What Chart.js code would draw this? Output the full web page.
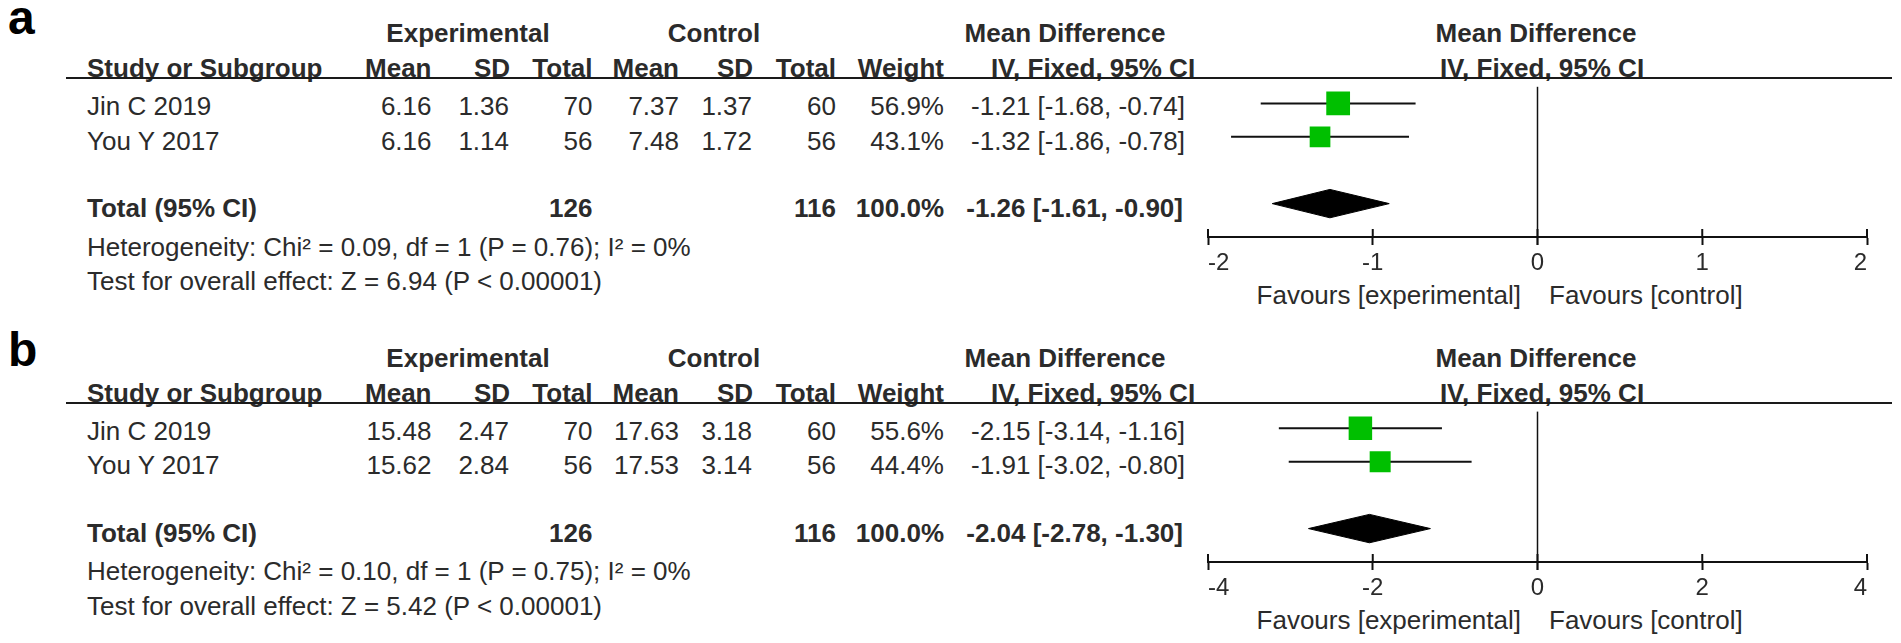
<!DOCTYPE html>
<html lang="en">
<head>
  <meta charset="UTF-8" />
  <title>Forest plots - Mean Difference</title>
  <script src="https://cdn.jsdelivr.net/npm/chart.js"></script>
  <style>
    * { box-sizing: border-box; }

    html, body {
      margin: 0;
      padding: 0;
      background: #ffffff;
    }

    body {
      width: 1901px;
      height: 643px;
      position: relative;
      overflow: hidden;
      font-family: 'Liberation Sans', Arial, sans-serif;
      color: #2b2b2b;
    }

    .t {
      position: absolute;
      font-size: 26px;
      line-height: 30px;
      white-space: nowrap;
    }

    .b { font-weight: bold; }

    .tag {
      position: absolute;
      font-size: 48px;
      line-height: 48px;
      font-weight: bold;
      color: #000;
    }

    .rule {
      position: absolute;
      height: 2px;
      background: #1a1a1a;
    }

    .plot { position: absolute; }
  </style>
</head>
<body>

  <script>
    const studies = ['Jin C 2019', 'You Y 2017'];

    // panel a
    const aExpMean = [6.16, 6.16];
    const aExpSD = [1.36, 1.14];
    const aExpN = [70, 56];
    const aCtlMean = [7.37, 7.48];
    const aCtlSD = [1.37, 1.72];
    const aCtlN = [60, 56];
    const aWeight = [56.9, 43.1];
    const aMD = [-1.21, -1.32];
    const aLo = [-1.68, -1.86];
    const aHi = [-0.74, -0.78];
    const aTotal = [-1.26, -1.61, -0.90];   // estimate, lower, upper
    const aHetero = [0.09, 1, 0.76, 0];     // chi2, df, P, I2
    const aZ = 6.94;
    const aTicks = [-2, -1, 0, 1, 2];

    // panel b
    const bExpMean = [15.48, 15.62];
    const bExpSD = [2.47, 2.84];
    const bExpN = [70, 56];
    const bCtlMean = [17.63, 17.53];
    const bCtlSD = [3.18, 3.14];
    const bCtlN = [60, 56];
    const bWeight = [55.6, 44.4];
    const bMD = [-2.15, -1.91];
    const bLo = [-3.14, -3.02];
    const bHi = [-1.16, -0.80];
    const bTotal = [-2.04, -2.78, -1.30];
    const bHetero = [0.10, 1, 0.75, 0];
    const bZ = 5.42;
    const bTicks = [-4, -2, 0, 2, 4];

    const FONT = "'Liberation Sans', Arial, sans-serif";
    const GREEN = '#00bf00';
    const INK = '#111111';
    const W = 1901;

    const panels = [
      { tag: 'a', off: 0, tagTop: -6, expMean: aExpMean, expSD: aExpSD, expN: aExpN,
        ctlMean: aCtlMean, ctlSD: aCtlSD, ctlN: aCtlN, weight: aWeight,
        md: aMD, lo: aLo, hi: aHi, total: aTotal, het: aHetero, z: aZ, ticks: aTicks },
      { tag: 'b', off: 324.5, tagTop: 326, expMean: bExpMean, expSD: bExpSD, expN: bExpN,
        ctlMean: bCtlMean, ctlSD: bCtlSD, ctlN: bCtlN, weight: bWeight,
        md: bMD, lo: bLo, hi: bHi, total: bTotal, het: bHetero, z: bZ, ticks: bTicks }
    ];

    // column anchors (right edges unless noted)
    const COL = { study: 87, expMean: 431.5, expSD: 509, expN: 592.5,
                  ctlMean: 679, ctlSD: 752, ctlN: 836, weight: 944, md: 1185 };

    function addText(str, x, yc, align, bold) {
      const el = document.createElement('div');
      el.className = 't' + (bold ? ' b' : '');
      el.textContent = str;
      el.style.top = (yc - 15) + 'px';
      if (align === 'right') {
        el.style.right = (W - x) + 'px';
      } else if (align === 'center') {
        el.style.left = x + 'px';
        el.style.transform = 'translateX(-50%)';
      } else {
        el.style.left = x + 'px';
      }
      document.body.appendChild(el);
    }

    const sum = arr => arr.reduce((s, v) => s + v, 0);
    const ci = (m, l, h) => m.toFixed(2) + ' [' + l.toFixed(2) + ', ' + h.toFixed(2) + ']';

    // ticks crossing the axis line and the line of no effect
    const crossTicks = {
      id: 'crossTicks',
      afterDraw(chart) {
        const { ctx, chartArea, scales: { x } } = chart;
        ctx.save();
        ctx.strokeStyle = INK;
        ctx.lineWidth = 2;
        x.ticks.forEach(t => {
          const px = x.getPixelForValue(t.value);
          ctx.beginPath();
          ctx.moveTo(px, chartArea.bottom - 8);
          ctx.lineTo(px, chartArea.bottom);
          ctx.stroke();
        });
        const z = x.getPixelForValue(0);
        ctx.lineWidth = 1.5;
        ctx.beginPath();
        ctx.moveTo(z, chartArea.top);
        ctx.lineTo(z, chartArea.bottom + 8);
        ctx.stroke();
        ctx.restore();
      }
    };

    function drawPanel(p) {
      const o = p.off;
      const rowY = i => o + 106 + i * 34.5;

      const tag = document.createElement('div');
      tag.className = 'tag';
      tag.textContent = p.tag;
      tag.style.left = '8px';
      tag.style.top = p.tagTop + 'px';
      document.body.appendChild(tag);

      // headers
      addText('Experimental', 468, o + 33, 'center', true);
      addText('Control', 714, o + 33, 'center', true);
      addText('Mean Difference', 1065, o + 33, 'center', true);
      addText('Mean Difference', 1536, o + 33, 'center', true);

      addText('Study or Subgroup', COL.study, o + 68, 'left', true);
      addText('Mean', COL.expMean, o + 68, 'right', true);
      addText('SD', COL.expSD + 1, o + 68, 'right', true);
      addText('Total', COL.expN, o + 68, 'right', true);
      addText('Mean', COL.ctlMean, o + 68, 'right', true);
      addText('SD', COL.ctlSD + 1, o + 68, 'right', true);
      addText('Total', COL.ctlN, o + 68, 'right', true);
      addText('Weight', COL.weight, o + 68, 'right', true);
      addText('IV, Fixed, 95% CI', 1093, o + 68, 'center', true);
      addText('IV, Fixed, 95% CI', 1542, o + 68, 'center', true);

      const rule = document.createElement('div');
      rule.className = 'rule';
      rule.style.left = '66px';
      rule.style.width = (1892 - 66) + 'px';
      rule.style.top = (o + 77.3) + 'px';
      document.body.appendChild(rule);

      // study rows
      studies.forEach((s, i) => {
        const y = rowY(i);
        addText(s, COL.study, y, 'left');
        addText(p.expMean[i].toFixed(2), COL.expMean, y, 'right');
        addText(p.expSD[i].toFixed(2), COL.expSD, y, 'right');
        addText(String(p.expN[i]), COL.expN, y, 'right');
        addText(p.ctlMean[i].toFixed(2), COL.ctlMean, y, 'right');
        addText(p.ctlSD[i].toFixed(2), COL.ctlSD, y, 'right');
        addText(String(p.ctlN[i]), COL.ctlN, y, 'right');
        addText(p.weight[i].toFixed(1) + '%', COL.weight, y, 'right');
        addText(ci(p.md[i], p.lo[i], p.hi[i]), COL.md, y, 'right');
      });

      // total row and footnotes
      addText('Total (95% CI)', COL.study, o + 208, 'left', true);
      addText(String(sum(p.expN)), COL.expN, o + 208, 'right', true);
      addText(String(sum(p.ctlN)), COL.ctlN, o + 208, 'right', true);
      addText(sum(p.weight).toFixed(1) + '%', COL.weight, o + 208, 'right', true);
      addText(ci(p.total[0], p.total[1], p.total[2]), COL.md - 2, o + 208, 'right', true);

      addText('Heterogeneity: Chi\u00b2 = ' + p.het[0].toFixed(2) + ', df = ' + p.het[1] +
              ' (P = ' + p.het[2].toFixed(2) + '); I\u00b2 = ' + p.het[3] + '%', COL.study, o + 246.7, 'left');
      addText('Test for overall effect: Z = ' + p.z.toFixed(2) + ' (P < 0.00001)', COL.study, o + 281, 'left');

      addText('Favours [experimental]', 1521, o + 295, 'right');
      addText('Favours [control]', 1549, o + 295, 'left');

      // plot
      const wrap = document.createElement('div');
      wrap.className = 'plot';
      wrap.style.left = '1180px';
      wrap.style.top = (o + 70) + 'px';
      wrap.style.width = '721px';
      wrap.style.height = '212px';
      const cv = document.createElement('canvas');
      wrap.appendChild(cv);
      document.body.appendChild(wrap);

      const n = studies.length;
      const totalRow = n + 1;
      const half = 0.425;

      const datasets = [
        {
          type: 'scatter',
          data: p.md.map((v, i) => ({ x: v, y: i })),
          pointStyle: 'rect',
          pointRadius: p.weight.map(w => 3.15 * Math.sqrt(w) / Math.SQRT2),
          backgroundColor: GREEN,
          borderColor: GREEN,
          borderWidth: 0,
          order: 0
        },
        {
          type: 'line',
          data: [
            { x: p.total[1], y: totalRow },
            { x: p.total[0], y: totalRow - half },
            { x: p.total[2], y: totalRow },
            { x: p.total[0], y: totalRow + half },
            { x: p.total[1], y: totalRow }
          ],
          borderColor: '#000',
          borderWidth: 1,
          backgroundColor: '#000',
          fill: 'shape',
          tension: 0,
          pointRadius: 0,
          order: 0
        }
      ];
      p.md.forEach((v, i) => {
        datasets.push({
          type: 'line',
          data: [{ x: p.lo[i], y: i }, { x: p.hi[i], y: i }],
          borderColor: INK,
          borderWidth: 2,
          pointRadius: 0,
          order: 1
        });
      });

      new Chart(cv, {
        type: 'scatter',
        data: { datasets: datasets },
        options: {
          responsive: true,
          maintainAspectRatio: false,
          animation: false,
          events: [],
          layout: { padding: { left: 28, right: 34, top: 8, bottom: 0 } },
          plugins: {
            legend: { display: false },
            tooltip: { enabled: false }
          },
          scales: {
            x: {
              type: 'linear',
              min: p.ticks[0],
              max: p.ticks[p.ticks.length - 1],
              afterBuildTicks: s => { s.ticks = p.ticks.map(v => ({ value: v })); },
              afterFit: s => { s.height = 45; },
              ticks: {
                align: 'inner',
                padding: 4,
                color: '#2b2b2b',
                font: { family: FONT, size: 24 }
              },
              grid: {
                drawOnChartArea: false,
                drawTicks: true,
                tickLength: 8,
                tickWidth: 2,
                tickColor: INK
              },
              border: { display: true, color: INK, width: 2 }
            },
            y: {
              type: 'linear',
              reverse: true,
              min: -0.5,
              max: n + 2,
              display: false
            }
          }
        },
        plugins: [crossTicks]
      });
    }

    panels.forEach(drawPanel);
  </script>

</body>
</html>
